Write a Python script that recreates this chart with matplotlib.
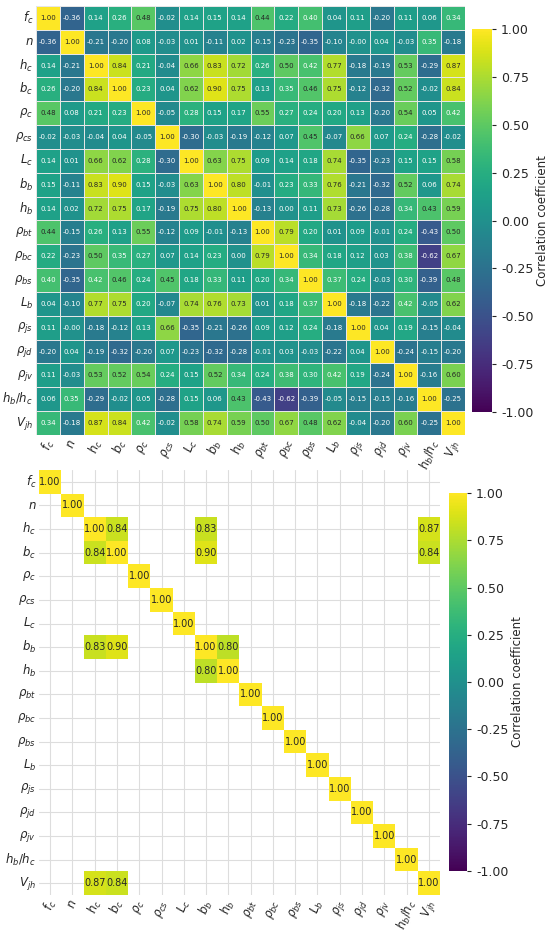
import numpy as np
import matplotlib
matplotlib.use("Agg")
import matplotlib.pyplot as plt
import seaborn as sns

labels = [r"$f_c$", r"$n$", r"$h_c$", r"$b_c$", r"$\rho_c$", r"$\rho_{cs}$", r"$L_c$",
          r"$b_b$", r"$h_b$", r"$\rho_{bt}$", r"$\rho_{bc}$", r"$\rho_{bs}$", r"$L_b$",
          r"$\rho_{js}$", r"$\rho_{jd}$", r"$\rho_{jv}$", r"$h_b/h_c$", r"$V_{jh}$"]

# correlation matrix, one row per variable
row_fc = [1.00, -0.36, 0.14, 0.26, 0.48, -0.02, 0.14, 0.15, 0.14, 0.44, 0.22, 0.40, 0.04, 0.11, -0.20, 0.11, 0.06, 0.34]
row_n = [-0.36, 1.00, -0.21, -0.20, 0.08, -0.03, 0.01, -0.11, 0.02, -0.15, -0.23, -0.35, -0.10, -0.00, 0.04, -0.03, 0.35, -0.18]
row_hc = [0.14, -0.21, 1.00, 0.84, 0.21, -0.04, 0.66, 0.83, 0.72, 0.26, 0.50, 0.42, 0.77, -0.18, -0.19, 0.53, -0.29, 0.87]
row_bc = [0.26, -0.20, 0.84, 1.00, 0.23, 0.04, 0.62, 0.90, 0.75, 0.13, 0.35, 0.46, 0.75, -0.12, -0.32, 0.52, -0.02, 0.84]
row_rc = [0.48, 0.08, 0.21, 0.23, 1.00, -0.05, 0.28, 0.15, 0.17, 0.55, 0.27, 0.24, 0.20, 0.13, -0.20, 0.54, 0.05, 0.42]
row_rcs = [-0.02, -0.03, -0.04, 0.04, -0.05, 1.00, -0.30, -0.03, -0.19, -0.12, 0.07, 0.45, -0.07, 0.66, 0.07, 0.24, -0.28, -0.02]
row_Lc = [0.14, 0.01, 0.66, 0.62, 0.28, -0.30, 1.00, 0.63, 0.75, 0.09, 0.14, 0.18, 0.74, -0.35, -0.23, 0.15, 0.15, 0.58]
row_bb = [0.15, -0.11, 0.83, 0.90, 0.15, -0.03, 0.63, 1.00, 0.80, -0.01, 0.23, 0.33, 0.76, -0.21, -0.32, 0.52, 0.06, 0.74]
row_hb = [0.14, 0.02, 0.72, 0.75, 0.17, -0.19, 0.75, 0.80, 1.00, -0.13, 0.00, 0.11, 0.73, -0.26, -0.28, 0.34, 0.43, 0.59]
row_rbt = [0.44, -0.15, 0.26, 0.13, 0.55, -0.12, 0.09, -0.01, -0.13, 1.00, 0.79, 0.20, 0.01, 0.09, -0.01, 0.24, -0.43, 0.50]
row_rbc = [0.22, -0.23, 0.50, 0.35, 0.27, 0.07, 0.14, 0.23, 0.00, 0.79, 1.00, 0.34, 0.18, 0.12, 0.03, 0.38, -0.62, 0.67]
row_rbs = [0.40, -0.35, 0.42, 0.46, 0.24, 0.45, 0.18, 0.33, 0.11, 0.20, 0.34, 1.00, 0.37, 0.24, -0.03, 0.30, -0.39, 0.48]
row_Lb = [0.04, -0.10, 0.77, 0.75, 0.20, -0.07, 0.74, 0.76, 0.73, 0.01, 0.18, 0.37, 1.00, -0.18, -0.22, 0.42, -0.05, 0.62]
row_rjs = [0.11, -0.00, -0.18, -0.12, 0.13, 0.66, -0.35, -0.21, -0.26, 0.09, 0.12, 0.24, -0.18, 1.00, 0.04, 0.19, -0.15, -0.04]
row_rjd = [-0.20, 0.04, -0.19, -0.32, -0.20, 0.07, -0.23, -0.32, -0.28, -0.01, 0.03, -0.03, -0.22, 0.04, 1.00, -0.24, -0.15, -0.20]
row_rjv = [0.11, -0.03, 0.53, 0.52, 0.54, 0.24, 0.15, 0.52, 0.34, 0.24, 0.38, 0.30, 0.42, 0.19, -0.24, 1.00, -0.16, 0.60]
row_hbhc = [0.06, 0.35, -0.29, -0.02, 0.05, -0.28, 0.15, 0.06, 0.43, -0.43, -0.62, -0.39, -0.05, -0.15, -0.15, -0.16, 1.00, -0.25]
row_Vjh = [0.34, -0.18, 0.87, 0.84, 0.42, -0.02, 0.58, 0.74, 0.59, 0.50, 0.67, 0.48, 0.62, -0.04, -0.20, 0.60, -0.25, 1.00]

threshold = 0.8
cbar_ticks = [-1, -0.75, -0.5, -0.25, 0, 0.25, 0.5, 0.75, 1]

corr = np.array([row_fc, row_n, row_hc, row_bc, row_rc, row_rcs, row_Lc, row_bb, row_hb,
                 row_rbt, row_rbc, row_rbs, row_Lb, row_rjs, row_rjd, row_rjv, row_hbhc, row_Vjh])

sns.set_style("whitegrid")
plt.rcParams['font.family'] = ['DejaVu Sans']

fig = plt.figure(figsize=(5.5, 9.33), dpi=100)

# top: full matrix
ax1 = fig.add_axes([0.0655, 0.5338, 0.78, 0.4598])
cax1 = fig.add_axes([0.858, 0.5584, 0.0364, 0.4105])
sns.heatmap(corr, ax=ax1, cbar_ax=cax1, cmap="viridis", vmin=-1, vmax=1,
            annot=True, fmt=".2f", annot_kws={"size": 5},
            linewidths=0.5, linecolor="#e6e6e6",
            xticklabels=labels, yticklabels=labels,
            cbar_kws={"label": "Correlation coefficient"})

# bottom: only strong correlations
ax2 = fig.add_axes([0.0709, 0.0407, 0.729, 0.4555])
cax2 = fig.add_axes([0.8164, 0.0665, 0.0327, 0.405])
ax2.set_axisbelow(True)
sns.heatmap(corr, ax=ax2, cbar_ax=cax2, cmap="viridis", vmin=-1, vmax=1,
            mask=np.abs(corr) < threshold,
            annot=True, fmt=".2f", annot_kws={"size": 7},
            linewidths=0,
            xticklabels=labels, yticklabels=labels,
            cbar_kws={"label": "Correlation coefficient"})
ax2.grid(True, color="#dddddd", linewidth=0.8)

for ax in (ax1, ax2):
    ax.tick_params(axis="x", labelrotation=70, labelsize=8.5, length=0, pad=2)
    ax.tick_params(axis="y", labelrotation=0, labelsize=8.5, length=0, pad=2)
    for t in ax.get_xticklabels():
        t.set_ha("center")

for cax in (cax1, cax2):
    cax.tick_params(labelsize=9, length=3)
    cax.set_yticks(cbar_ticks)
    cax.set_yticklabels([f"{v:.2f}" for v in cbar_ticks])
    cax.set_ylabel("Correlation coefficient", fontsize=8.5, labelpad=2)

fig.savefig("out.png", dpi=100)
